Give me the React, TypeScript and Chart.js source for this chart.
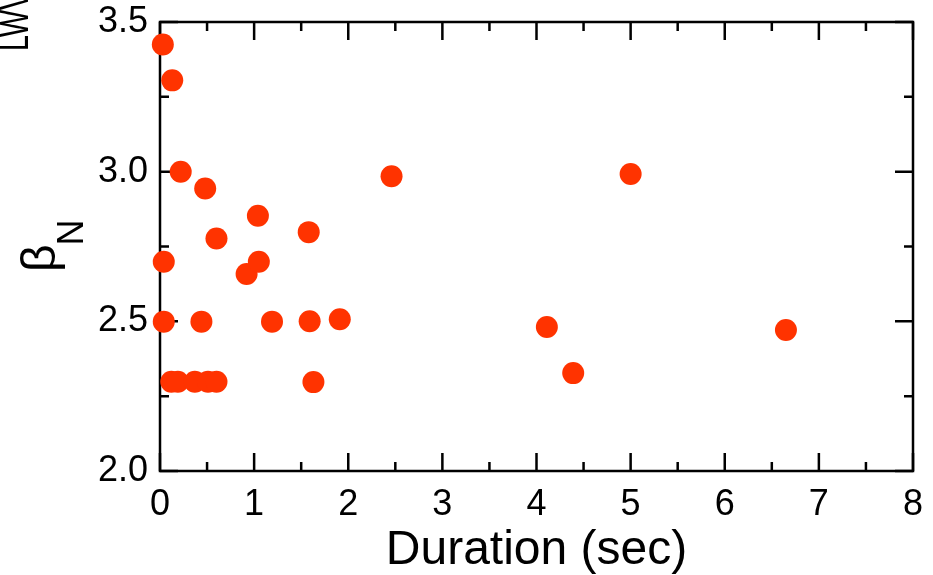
import React, { useEffect, useRef } from 'react';
import { Chart, registerables } from 'chart.js';

Chart.register(...registerables);

// Data
const durations = [0.03, 0.13, 0.22, 0.48, 0.04, 0.04, 0.12, 0.19, 0.37, 0.51, 0.60, 0.44, 0.60, 0.92, 1.04, 1.05, 1.19, 1.58, 1.59, 1.63, 1.91, 2.46, 4.11, 4.39, 5.00, 6.65];
const betaN = [3.425, 3.305, 3.0, 2.944, 2.699, 2.499, 2.298, 2.298, 2.298, 2.298, 2.298, 2.499, 2.777, 2.658, 2.853, 2.699, 2.499, 2.798, 2.5, 2.297, 2.507, 2.985, 2.481, 2.327, 2.992, 2.471];

const xMajor = [0, 1, 2, 3, 4, 5, 6, 7, 8];
const xMinor = [0.5, 1.5, 2.5, 3.5, 4.5, 5.5, 6.5, 7.5];
const yMajor = [2.0, 2.5, 3.0, 3.5];
const yMinor = [2.25, 2.75, 3.25];

const xTitle = 'Duration (sec)';
const yTitleMain = 'β';
const yTitleSub = 'N';
const cornerFragment = 'LWV';

const FONT = "'Liberation Sans', Arial, Helvetica, sans-serif";

const framePlugin = {
  id: 'frame',
  beforeDatasetsDraw(chart: any) {
    const { ctx, chartArea: a, scales } = chart;
    const x = scales.x;
    const y = scales.y;
    ctx.save();
    ctx.strokeStyle = '#000';
    ctx.lineWidth = 2.5;
    ctx.lineCap = 'butt';
    ctx.beginPath();
    const major = 18;
    const minor = 9;
    const hTick = (v: number, len: number) => {
      const px = x.getPixelForValue(v);
      ctx.moveTo(px, a.bottom);
      ctx.lineTo(px, a.bottom - len);
      ctx.moveTo(px, a.top);
      ctx.lineTo(px, a.top + len);
    };
    const vTick = (v: number, len: number) => {
      const py = y.getPixelForValue(v);
      ctx.moveTo(a.left, py);
      ctx.lineTo(a.left + len, py);
      ctx.moveTo(a.right, py);
      ctx.lineTo(a.right - len, py);
    };
    xMajor.forEach((v) => hTick(v, major));
    xMinor.forEach((v) => hTick(v, minor));
    yMajor.forEach((v) => vTick(v, major));
    yMinor.forEach((v) => vTick(v, minor));
    ctx.stroke();
    ctx.strokeRect(a.left, a.top, a.right - a.left, a.bottom - a.top);
    ctx.restore();
  },
  afterDraw(chart: any) {
    const { ctx } = chart;
    ctx.save();
    ctx.fillStyle = '#000';
    // y-axis title: beta with subscript N, rotated
    ctx.translate(55, 272);
    ctx.rotate(-Math.PI / 2);
    ctx.font = `48px ${FONT}`;
    ctx.textBaseline = 'alphabetic';
    ctx.textAlign = 'left';
    ctx.fillText(yTitleMain, 0, 0);
    const w = ctx.measureText(yTitleMain).width;
    ctx.font = `36px ${FONT}`;
    ctx.fillText(yTitleSub, w - 1, 28);
    ctx.restore();

    // clipped fragment in the top-left corner
    ctx.save();
    ctx.fillStyle = '#000';
    ctx.translate(28, 51);
    ctx.rotate(-Math.PI / 2);
    ctx.scale(0.72, 1);
    ctx.font = `40px ${FONT}`;
    ctx.textBaseline = 'alphabetic';
    ctx.fillText(cornerFragment, 0, 0);
    ctx.restore();
  },
};

export default function App() {
  const ref = useRef<HTMLCanvasElement | null>(null);
  useEffect(() => {
    if (!ref.current) return;
    const chart = new Chart(ref.current, {
      type: 'scatter',
      data: {
        datasets: [
          {
            data: durations.map((d, i) => ({ x: d, y: betaN[i] })),
            backgroundColor: '#ff3300',
            borderColor: '#ff3300',
            borderWidth: 0,
            pointRadius: 11,
            pointHoverRadius: 11,
            clip: false as any,
          },
        ],
      },
      options: {
        responsive: false,
        animation: false,
        devicePixelRatio: 1,
        layout: { padding: { top: 22, right: 20, left: 0, bottom: 0 } },
        plugins: { legend: { display: false }, tooltip: { enabled: false } },
        events: [],
        scales: {
          x: {
            type: 'linear',
            min: 0,
            max: 8,
            grid: { display: false, drawTicks: false },
            border: { display: false },
            ticks: {
              stepSize: 1,
              padding: 12,
              color: '#000',
              font: { family: FONT, size: 36 },
              maxRotation: 0,
              callback: (v: any) => String(v),
            },
            title: {
              display: true,
              text: xTitle,
              color: '#000',
              font: { family: FONT, size: 48, lineHeight: 1 },
              padding: { top: 0, bottom: 0 },
            },
            afterFit: (s: any) => {
              s.height = 104;
              s.paddingLeft = 0;
              s.paddingRight = 0;
            },
          },
          y: {
            type: 'linear',
            min: 2.0,
            max: 3.5,
            grid: { display: false, drawTicks: false },
            border: { display: false },
            ticks: {
              stepSize: 0.5,
              padding: 12,
              color: '#000',
              font: { family: FONT, size: 36 },
              callback: (v: any) => Number(v).toFixed(1),
            },
            afterFit: (s: any) => {
              s.width = 160;
              s.paddingTop = 0;
              s.paddingBottom = 0;
            },
          },
        },
      },
      plugins: [framePlugin],
    });
    return () => chart.destroy();
  }, []);
  return (
    <div style={{ position: 'absolute', left: 0, top: 0, width: 933, height: 575, background: '#fff' }}>
      <canvas ref={ref} width={933} height={575} />
    </div>
  );
}
